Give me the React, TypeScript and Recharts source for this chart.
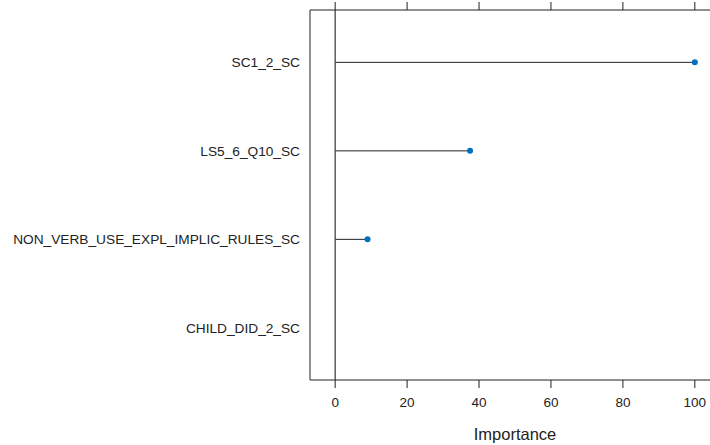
import { ComposedChart, Bar, XAxis, YAxis, ReferenceLine } from "recharts";

const variables = ["SC1_2_SC", "LS5_6_Q10_SC", "NON_VERB_USE_EXPL_IMPLIC_RULES_SC", "CHILD_DID_2_SC"];
const importance = [100, 37.5, 9, 0];
const xTicks = [0, 20, 40, 60, 80, 100];

const data = variables.map((name, i) => ({ name, value: importance[i] }));

const FONT = "'Liberation Sans', Arial, sans-serif";
const DOT = "#0072bd";

// line from zero to the value, dot at the end
function Lollipop(props: any) {
  const { x, y, width, height, value } = props;
  const cy = y + height / 2;
  if (!value) return <g />;
  return (
    <g>
      <line x1={x} y1={cy} x2={x + width} y2={cy} stroke="#222" strokeWidth={1} />
      <circle cx={x + width} cy={cy} r={3} fill={DOT} />
    </g>
  );
}

export default function App() {
  return (
    <div style={{ position: "absolute", left: 0, top: 0, width: 710, height: 445, overflow: "hidden", background: "#fff" }}>
      <ComposedChart
        width={730}
        height={445}
        data={data}
        layout="vertical"
        margin={{ top: 0, right: 10, bottom: 0, left: 0 }}
      >
        <XAxis
          xAxisId="bottom"
          type="number"
          domain={[-7, 107]}
          ticks={xTicks}
          allowDataOverflow
          orientation="bottom"
          height={65}
          tickSize={8}
          tickMargin={9}
          stroke="#222"
          tick={{ fill: "#222", fontSize: 13.5, fontFamily: FONT }}
          label={{ value: "Importance", position: "insideBottom", offset: 5, fill: "#222", fontSize: 16.5, fontFamily: FONT }}
        />
        <XAxis
          xAxisId="top"
          type="number"
          domain={[-7, 107]}
          ticks={xTicks}
          allowDataOverflow
          orientation="top"
          height={10}
          tickSize={8}
          stroke="#222"
          tick={() => <g />}
        />
        <YAxis
          type="category"
          dataKey="name"
          width={310}
          padding={{ top: 8, bottom: 8 }}
          tickLine={false}
          tickSize={0}
          tickMargin={10}
          stroke="#222"
          tick={{ fill: "#222", fontSize: 13.7, fontFamily: FONT }}
        />
        <ReferenceLine xAxisId="bottom" x={0} stroke="#444" strokeWidth={1.3} />
        <Bar xAxisId="bottom" dataKey="value" shape={<Lollipop />} isAnimationActive={false} />
      </ComposedChart>
    </div>
  );
}
